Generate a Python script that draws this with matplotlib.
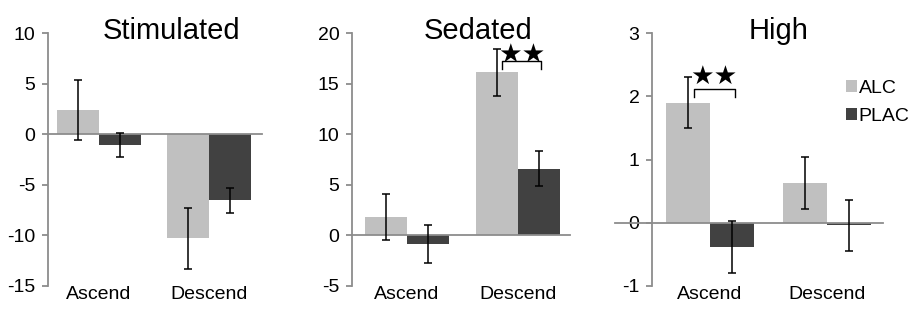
import matplotlib
matplotlib.use("Agg")
from matplotlib import pyplot as plt
import numpy as np

plt.rcParams['font.family'] = ['Liberation Sans', 'DejaVu Sans']
plt.rcParams['axes.unicode_minus'] = False

groups = ['Ascend', 'Descend']
series = ['ALC', 'PLAC']

stim_alc = [2.4, -10.3]
stim_alc_err = [2.95, 3.05]
stim_plac = [-1.05, -6.55]
stim_plac_err = [1.2, 1.2]

sed_alc = [1.8, 16.1]
sed_alc_err = [2.3, 2.35]
sed_plac = [-0.85, 6.6]
sed_plac_err = [1.85, 1.75]

high_alc = [1.9, 0.63]
high_alc_err = [0.4, 0.41]
high_plac = [-0.39, -0.04]
high_plac_err = [0.41, 0.4]

titles = ['Stimulated', 'Sedated', 'High']
yticks = [np.arange(-15, 11, 5), np.arange(-5, 21, 5), np.arange(-1, 4, 1)]

# significance: (panel, group, bracket top, arm bottom, star height)
sig = [(1, 1, 17.2, 16.4, 17.8), (2, 0, 2.12, 1.99, 2.31)]

ALC_COLOR = '#c0c0c0'
PLAC_COLOR = '#414141'
AXIS_COLOR = '#8c8c8c'

W, H = 913, 317
fig = plt.figure(figsize=(W / 100, H / 100), dpi=100)

# axes boxes in pixels: left, right ; xlim per panel
boxes = [(48, 262, (-0.464, 1.482)), (352, 570, (-0.495, 1.468)), (652, 883, (-0.496, 1.479))]
top_px, bot_px = 33, 286
title_x = [171, 478, 779]
zero_left = [0, 0, -37]

data = [(stim_alc, stim_alc_err, stim_plac, stim_plac_err),
        (sed_alc, sed_alc_err, sed_plac, sed_plac_err),
        (high_alc, high_alc_err, high_plac, high_plac_err)]

width = 0.38
x = np.arange(len(groups))
axes = []
for i, (l, r, xl) in enumerate(boxes):
    ax = fig.add_axes([l / W, (H - bot_px) / H, (r - l) / W, (bot_px - top_px) / H])
    axes.append(ax)
    alc, alc_err, plac, plac_err = data[i]
    ax.bar(x - width / 2, alc, width, color=ALC_COLOR, label=series[0], zorder=2)
    ax.bar(x + width / 2, plac, width, color=PLAC_COLOR, label=series[1], zorder=2)
    ax.errorbar(x - width / 2, alc, yerr=alc_err, fmt='none', ecolor='black',
                elinewidth=1.1, capsize=3, capthick=1.1, zorder=4)
    ax.errorbar(x + width / 2, plac, yerr=plac_err, fmt='none', ecolor='black',
                elinewidth=1.1, capsize=3, capthick=1.1, zorder=4)
    ax.axhline(0, xmin=zero_left[i] / (r - l), xmax=1, color=AXIS_COLOR, lw=1.3,
               clip_on=False, zorder=3)
    ax.set_xlim(*xl)
    ax.set_ylim(yticks[i][0], yticks[i][-1])
    ax.set_yticks(yticks[i])
    ax.set_xticks(x)
    ax.set_xticklabels(groups)
    for s in ['top', 'right', 'bottom']:
        ax.spines[s].set_visible(False)
    ax.spines['left'].set_color(AXIS_COLOR)
    ax.spines['left'].set_linewidth(1.3)
    ax.tick_params(axis='y', direction='out', length=4, width=1.3, color=AXIS_COLOR,
                   labelsize=14, pad=5)
    ax.tick_params(axis='x', length=0, labelsize=14, pad=0)
    ax.patch.set_visible(False)
    fig.text(title_x[i] / W, 1 - 39 / H, titles[i], fontsize=21, ha='center', va='baseline')

for p, g, top, arm, star_y in sig:
    ax = axes[p]
    xa = x[g] - width / 2 + 0.05
    xb = x[g] + width / 2 + 0.02
    ax.plot([xa, xa, xb, xb], [arm, top, top, arm], color='black', lw=1.0, zorder=5)
    ax.text((xa + xb) / 2, star_y, '\u2605\u2605', family='DejaVu Sans', fontsize=19,
            ha='center', va='center', zorder=6)

h, lab = axes[2].get_legend_handles_labels()
fig.legend(h, lab, loc='upper left', bbox_to_anchor=(846 / W, 1 - 80 / H), frameon=False,
           fontsize=14, handlelength=0.55, handleheight=0.6, handletextpad=0.1,
           labelspacing=0.55, borderpad=0, borderaxespad=0)

fig.savefig('out.png', dpi=100)
